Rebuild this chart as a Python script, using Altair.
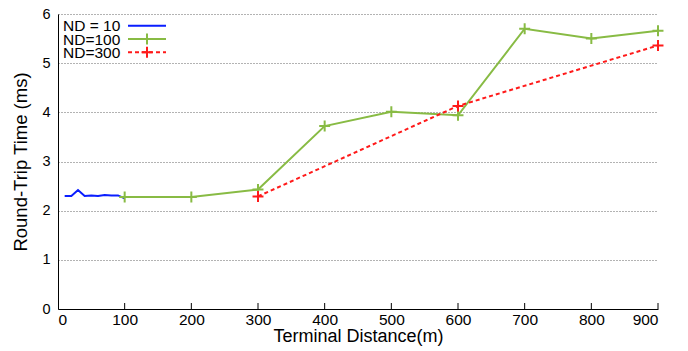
import altair as alt
import pandas as pd

x10 = [10, 20, 30, 40, 50, 60, 70, 80, 90, 100]
y10 = [2.30, 2.30, 2.42, 2.30, 2.31, 2.30, 2.32, 2.31, 2.31, 2.25]
x100 = [100, 200, 300, 400, 500, 600, 700, 800, 900]
y100 = [2.28, 2.28, 2.43, 3.72, 4.01, 3.94, 5.70, 5.50, 5.66]
x300 = [300, 600, 900]
y300 = [2.29, 4.13, 5.36]
xticks = [0, 100, 200, 300, 400, 500, 600, 700, 800, 900]
yticks = [0, 1, 2, 3, 4, 5, 6]
series = ["ND = 10", "ND=100", "ND=300"]
colors = ["#0a1eff", "#88bb44", "#ff1a1a"]

W, H = 600, 295
FONT = "Liberation Sans"

d10 = pd.DataFrame({"x": x10, "y": y10})
d100 = pd.DataFrame({"x": x100, "y": y100})
d300 = pd.DataFrame({"x": x300, "y": y300})

xs = alt.Scale(domain=[0, 900], nice=False)
ys = alt.Scale(domain=[0, 6], nice=False)

xax = alt.Axis(values=xticks, title="Terminal Distance(m)", grid=False, ticks=False,
               labelFontSize=15.5, titleFontSize=18, labelFont=FONT, titleFont=FONT,
               labelColor="black", titleColor="black", domainColor="black",
               labelPadding=3, titlePadding=0, titleFontWeight="normal")
yax = alt.Axis(values=yticks, title="Round-Trip Time (ms)", grid=True, ticks=False,
               gridColor="#666", gridDash=[1, 2], gridWidth=1,
               labelFontSize=14.5, titleFontSize=18.5, labelFont=FONT, titleFont=FONT,
               labelColor="black", titleColor="black", domainColor="black",
               labelPadding=8, titlePadding=11, titleFontWeight="normal")

X = alt.X("x:Q", scale=xs, axis=xax)
Y = alt.Y("y:Q", scale=ys, axis=yax)

plus = "M-1,0H1M0,-1V1"

l10 = alt.Chart(d10).mark_line(color=colors[0], strokeWidth=2).encode(x=X, y=Y)
l100 = alt.Chart(d100).mark_line(color=colors[1], strokeWidth=2).encode(x=X, y=Y)
p100 = alt.Chart(d100).mark_point(shape=plus, color=colors[1], filled=False, size=120,
                                  strokeWidth=2, opacity=1).encode(x=X, y=Y)
l300 = alt.Chart(d300).mark_line(color=colors[2], strokeWidth=2, strokeDash=[4, 3]).encode(x=X, y=Y)
p300 = alt.Chart(d300).mark_point(shape=plus, color=colors[2], filled=False, size=120,
                                  strokeWidth=2, opacity=1).encode(x=X, y=Y)

tk = pd.DataFrame({"x": xticks[1:]})
ticks = alt.Chart(tk).mark_rule(color="black", strokeWidth=1).encode(
    x=X, y=alt.value(H), y2=alt.value(H - 6))

# legend (gnuplot style: label then sample)
legend = []
for i, (s, c, dash, mk) in enumerate(zip(series, colors, [[1, 0], [1, 0], [4, 3]], [False, True, True])):
    yy = 11.7 + 13.3 * i
    one = pd.DataFrame({"s": [s]})
    legend.append(alt.Chart(one).mark_text(align="left", baseline="middle", fontSize=15.5,
                                           font=FONT, color="black").encode(
        x=alt.value(5), y=alt.value(yy + 0.5), text="s:N"))
    legend.append(alt.Chart(one).mark_rule(color=c, strokeWidth=2, strokeDash=dash).encode(
        x=alt.value(70), x2=alt.value(108), y=alt.value(yy)))
    if mk:
        legend.append(alt.Chart(one).mark_point(shape=plus, color=c, filled=False, size=120,
                                                strokeWidth=2, opacity=1).encode(
            x=alt.value(89), y=alt.value(yy)))

chart = alt.layer(l10, l100, p100, l300, p300, ticks, *legend).properties(
    width=W, height=H,
    autosize=alt.AutoSizeParams(type="none"),
    padding={"left": 50, "top": 6, "right": 22, "bottom": 40},
    background="white",
).configure_view(stroke=None)

chart.save("out.html", embed_options={"renderer": "svg", "actions": False})
